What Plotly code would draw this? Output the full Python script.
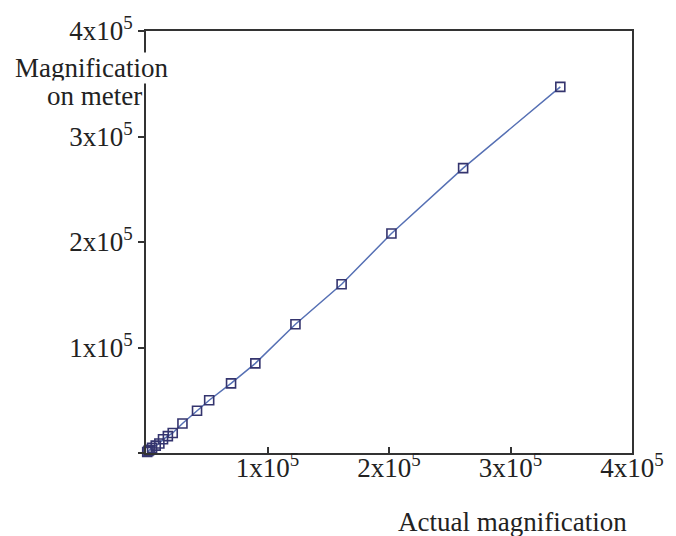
import plotly.graph_objects as go

actual_magnification = [1000, 2000, 3000, 5000, 8000, 11000, 14000, 18000, 22000, 30000,
                        42000, 52000, 70000, 90000, 123000, 161000, 202000, 261000, 341000]
meter_magnification = [1000, 2000, 3000, 5000, 7000, 9000, 13000, 16000, 19000, 28000,
                       40000, 50000, 66000, 85000, 122000, 160000, 208000, 270000, 347000]

x_tick_vals = [100000, 200000, 300000, 400000]
x_tick_text = ["1x10<sup>5</sup>", "2x10<sup>5</sup>", "3x10<sup>5</sup>", "4x10<sup>5</sup>"]
y_tick_vals = [0, 100000, 200000, 300000, 400000]
y_tick_text = ["", "1x10<sup>5</sup>", "2x10<sup>5</sup>", "3x10<sup>5</sup>", "4x10<sup>5</sup>"]

FONT = "Liberation Serif"

fig = go.Figure()
fig.add_trace(go.Scatter(
    x=actual_magnification, y=meter_magnification,
    mode="lines+markers",
    line=dict(color="#5670b4", width=1.5),
    marker=dict(symbol="square-open", size=9, color="#34346e", line=dict(width=1.6)),
    showlegend=False,
    cliponaxis=False,
))

fig.update_layout(
    width=676, height=536,
    margin=dict(l=146, r=38, t=30, b=83),
    paper_bgcolor="white", plot_bgcolor="white",
    font=dict(family=FONT, size=27, color="#222"),
    xaxis=dict(range=[0, 400000], tickvals=x_tick_vals, ticktext=x_tick_text,
               ticks="inside", ticklen=6, tickwidth=1.5, tickcolor="#333",
               showline=True, linecolor="#333", linewidth=1.8, mirror=True,
               showgrid=False, zeroline=False, ticklabelstandoff=-10,
               tickfont=dict(family=FONT, size=27, color="#222")),
    yaxis=dict(range=[0, 400000], tickvals=y_tick_vals, ticktext=y_tick_text,
               ticks="outside", ticklen=6, tickwidth=1.5, tickcolor="#333",
               showline=True, linecolor="#333", linewidth=1.8, mirror=True,
               showgrid=False, zeroline=False,
               tickfont=dict(family=FONT, size=27, color="#222")),
    annotations=[
        dict(text="Magnification", xref="paper", yref="paper",
             x=-0.112, y=0.9125, xanchor="center", yanchor="middle",
             showarrow=False, bgcolor="white", borderpad=0,
             font=dict(family=FONT, size=27, color="#222")),
        dict(text="on meter", xref="paper", yref="paper",
             x=-0.106, y=0.846, xanchor="center", yanchor="middle",
             showarrow=False, bgcolor="white", borderpad=0,
             font=dict(family=FONT, size=27, color="#222")),
        dict(text="Actual magnification", xref="paper", yref="paper",
             x=0.755, y=-0.163, xanchor="center", yanchor="middle",
             showarrow=False, font=dict(family=FONT, size=27, color="#222")),
    ],
)

fig.write_html("out.html")
